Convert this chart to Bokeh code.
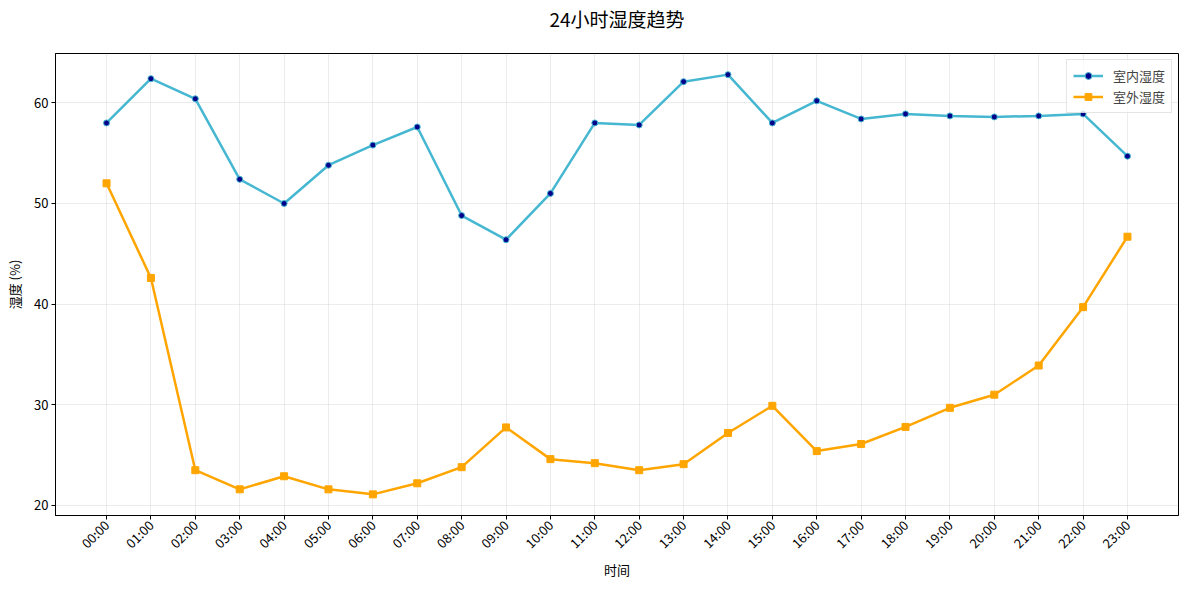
import math
from bokeh.plotting import figure
from bokeh.models import FactorRange, Range1d, SingleIntervalTicker, Legend, LegendItem, ColumnDataSource, Title
from bokeh.embed import file_html
from bokeh.resources import INLINE

hours = ["00:00", "01:00", "02:00", "03:00", "04:00", "05:00", "06:00", "07:00",
         "08:00", "09:00", "10:00", "11:00", "12:00", "13:00", "14:00", "15:00",
         "16:00", "17:00", "18:00", "19:00", "20:00", "21:00", "22:00", "23:00"]
indoor = [58.0, 62.4, 60.4, 52.4, 50.0, 53.8, 55.8, 57.6, 48.8, 46.4, 51.0, 58.0,
          57.8, 62.1, 62.8, 58.0, 60.2, 58.4, 58.9, 58.7, 58.6, 58.7, 58.9, 54.7]
outdoor = [52.0, 42.6, 23.5, 21.6, 22.9, 21.6, 21.1, 22.2, 23.8, 27.75, 24.6, 24.2,
           23.5, 24.1, 27.2, 29.9, 25.4, 26.1, 27.8, 29.7, 31.0, 33.9, 39.7, 46.7]
series_names = ["室内湿度", "室外湿度"]
title_text = "24小时湿度趋势"
x_label = "时间"
y_label = "湿度 (%)"

FONT = "Noto Sans CJK SC, DejaVu Sans, sans-serif"
FW, FH = 1123, 462

src = ColumnDataSource(dict(h=hours, indoor=indoor, outdoor=outdoor))

p = figure(
    x_range=FactorRange(factors=hours, range_padding=0.65, range_padding_units="absolute"),
    y_range=Range1d(19.0, 64.9),
    frame_width=FW, frame_height=FH,
    min_border_left=55, min_border_right=1, min_border_top=52, min_border_bottom=62,
    output_backend="svg", toolbar_location=None,
)

# spacer (closest to the frame) then the visible title above it
spacer = Title(text=" ", text_font_size="1px", standoff=17)
p.add_layout(spacer, "above")
main_title = Title(text=title_text, align="center", text_font=FONT,
                   text_font_size="19px", text_font_style="normal",
                   text_color="#000000", standoff=4)
p.add_layout(main_title, "above")

p.outline_line_color = "black"
p.outline_line_width = 1
p.outline_line_alpha = 1

for g in (p.xgrid, p.ygrid):
    g.grid_line_color = "#b0b0b0"
    g.grid_line_alpha = 0.3
    g.grid_line_width = 0.8

p.yaxis.ticker = SingleIntervalTicker(interval=10)

for ax in (p.xaxis, p.yaxis):
    ax.axis_line_color = "black"
    ax.major_tick_line_color = "black"
    ax.major_tick_out = 4
    ax.major_tick_in = 0
    ax.minor_tick_line_color = None
    ax.major_label_text_font = FONT
    ax.major_label_text_font_size = "13px"
    ax.major_label_text_color = "#000000"
    ax.axis_label_text_font = FONT
    ax.axis_label_text_font_size = "13px"
    ax.axis_label_text_font_style = "normal"
    ax.axis_label_text_color = "#000000"
    ax.major_label_standoff = 3

p.xaxis.axis_label = x_label
p.yaxis.axis_label = y_label
p.xaxis.major_label_orientation = math.pi / 4
p.xaxis.axis_label_standoff = -2
p.yaxis.axis_label_standoff = 7

blue = "#45B7D1"
orange = "#FFA500"

l1 = p.line("h", "indoor", source=src, line_color=blue, line_width=2.5)
m1 = p.scatter("h", "indoor", source=src, marker="circle", size=6,
               fill_color="#00008B", line_color=blue, line_width=1)
l2 = p.line("h", "outdoor", source=src, line_color=orange, line_width=2.5)
m2 = p.scatter("h", "outdoor", source=src, marker="square", size=7,
               fill_color=orange, line_color=orange, line_width=1)

legend = Legend(items=[LegendItem(label=series_names[0], renderers=[l1, m1]),
                       LegendItem(label=series_names[1], renderers=[l2, m2])],
                location="top_right")
legend.margin = 6
legend.padding = 6
legend.spacing = 2
legend.glyph_width = 30
legend.glyph_height = 17
legend.label_height = 17
legend.label_standoff = 10
legend.label_text_font = FONT
legend.label_text_font_size = "13px"
legend.border_line_color = "#cccccc"
legend.border_line_width = 1
legend.background_fill_alpha = 0.8
p.add_layout(legend, "center")

open("out.html", "w").write(file_html(p, INLINE))
